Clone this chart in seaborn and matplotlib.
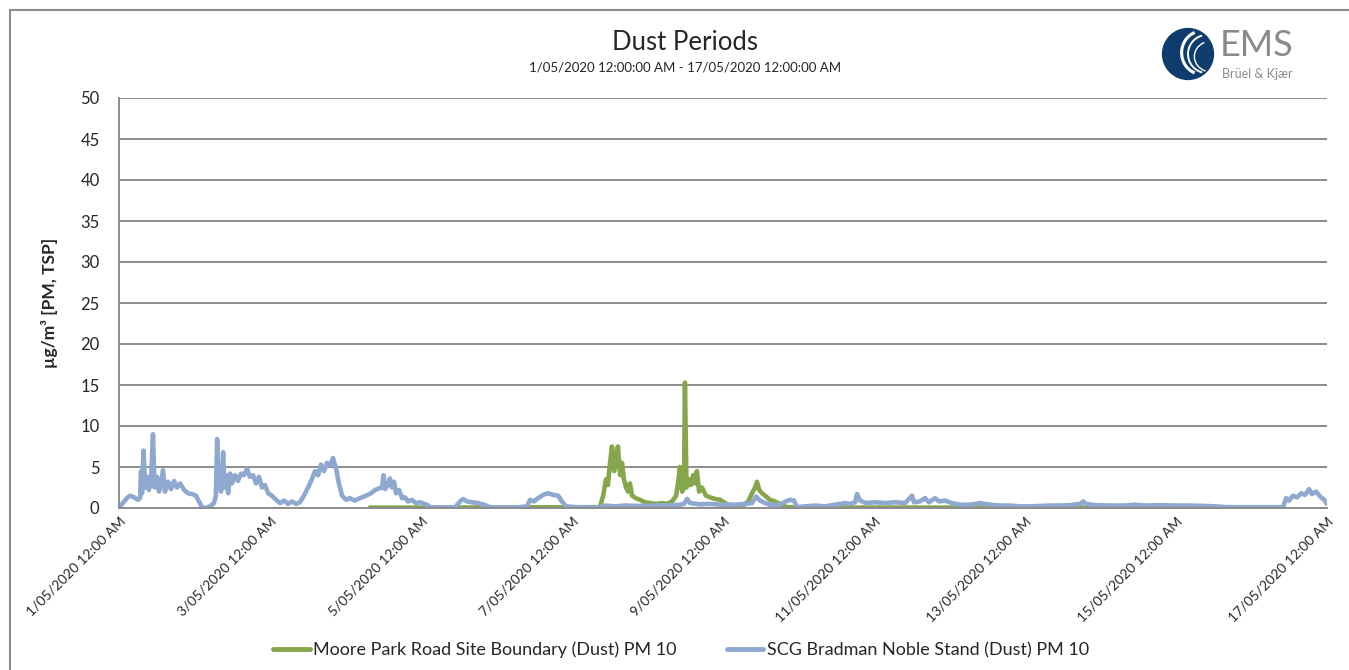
import pandas as pd
import matplotlib
matplotlib.use("Agg")
import matplotlib.pyplot as plt
import matplotlib.patches as mpatches
import seaborn as sns
from datetime import datetime, timedelta

# hours after 1/05/2020 12:00 AM, values in ug/m3
SCG_HOURS = [0, 1.0, 2.5, 3.5, 4.8, 6.0, 6.7, 7.0, 7.3, 7.8, 8.3, 8.9, 9.5, 10.2, 10.8, 11.3,
             12.1, 12.7, 13.4, 14.0, 14.6, 15.6, 16.5, 17.5, 18.4, 19.4, 20.7, 21.9, 23.2,
             24.5, 25.4, 26.4, 27.7, 28.9, 30.2, 30.8, 31.2, 31.6, 32.1, 32.4, 33.1, 33.5,
             34.0, 34.7, 35.3, 35.9, 36.9, 37.8, 38.8, 39.7, 40.7, 41.6, 42.6, 43.6, 44.5,
             45.5, 46.4, 47.4, 48.6, 49.9, 51.2, 52.5, 53.7, 55.0, 56.3, 57.5, 58.8, 60.1,
             61.4, 62.3, 63.3, 64.2, 65.2, 66.1, 67.1, 68.0, 69.0, 69.9, 70.9, 72.2, 73.4,
             75.0, 76.6, 78.5, 80.1, 81.4, 82.7, 83.6, 84.1, 84.6, 85.5, 86.1, 86.8, 87.4,
             88.1, 89.0, 90.0, 90.9, 91.9, 93.1, 94.4, 95.7, 97.0, 97.9, 98.9, 102.0, 106.8,
             108.4, 109.4, 110.6, 112.2, 114.1, 116.0, 117.9, 121.1, 124.3, 127.5, 129.7,
             130.7, 131.9, 133.2, 134.8, 136.4, 138.0, 139.6, 140.8, 142.1, 145.0, 149.7,
             152.8, 154.5, 157.7, 160.8, 165.6, 170.4, 175.2, 178.3, 179.6, 180.6, 181.5,
             184.7, 187.9, 191.1, 195.8, 199.0, 201.2, 202.5, 203.8, 205.4, 206.9, 210.1,
             212.0, 213.3, 214.6, 215.5, 218.1, 221.3, 224.4, 227.6, 230.8, 232.4, 234.0,
             234.6, 235.6, 237.5, 240.3, 243.5, 246.7, 249.9, 252.1, 252.7, 254.6, 256.2,
             257.5, 259.4, 260.7, 262.6, 264.8, 267.3, 270.5, 273.7, 276.9, 280.1, 283.2,
             286.4, 289.6, 292.8, 296.0, 299.1, 302.3, 305.5, 306.5, 307.4, 310.3, 315.0,
             319.8, 323.0, 326.2, 330.9, 335.7, 340.5, 345.2, 348.4, 352.2, 359.5, 365.9,
             370.0, 371.0, 371.9, 373.2, 374.5, 375.8, 377.0, 378.3, 379.2, 380.5, 381.8,
             383.1, 384.0]
SCG_VALUES = [0.0, 0.5, 1.2, 1.5, 1.3, 1.0, 1.2, 4.5, 1.8, 7.0, 2.5, 3.8, 2.2, 3.5, 9.0, 2.5,
              3.8, 2.0, 3.0, 4.6, 2.0, 3.2, 2.3, 3.3, 2.5, 3.0, 2.2, 1.8, 1.7,
              1.5, 0.8, 0.1, 0.0, 0.2, 0.6, 1.5, 8.4, 2.5, 5.0, 2.0, 6.8, 2.5,
              4.0, 1.8, 4.2, 3.0, 4.0, 3.3, 4.2, 4.0, 4.8, 3.8, 4.0, 3.0, 3.8,
              2.5, 2.8, 1.8, 1.5, 1.0, 0.6, 0.9, 0.5, 0.8, 0.5, 0.7, 1.5, 2.5,
              3.6, 4.5, 4.0, 5.3, 4.5, 5.5, 5.2, 6.1, 4.8, 3.0, 1.5, 1.0, 1.2,
              0.9, 1.2, 1.5, 1.8, 2.2, 2.4, 2.5, 4.0, 2.3, 2.8, 3.6, 2.5, 3.2,
              1.8, 2.2, 1.2, 1.3, 0.8, 1.0, 0.6, 0.7, 0.5, 0.4, 0.1, 0.05, 0.05,
              0.8, 1.1, 0.8, 0.7, 0.6, 0.4, 0.1, 0.05, 0.05, 0.1, 0.2,
              1.0, 0.8, 1.2, 1.6, 1.8, 1.6, 1.5, 0.8, 0.2, 0.1, 0.05,
              0.1, 0.3, 0.2, 0.3, 0.25, 0.3, 0.35, 0.4, 0.5, 1.1, 0.6,
              0.45, 0.5, 0.4, 0.4, 0.5, 0.6, 1.4, 0.9, 0.6, 0.4, 0.4,
              0.8, 1.0, 0.9, 0.1, 0.2, 0.3, 0.2, 0.4, 0.6, 0.5, 0.7,
              1.7, 0.9, 0.6, 0.7, 0.6, 0.7, 0.6, 1.5, 0.7, 0.8, 1.2,
              0.7, 1.2, 0.8, 0.9, 0.6, 0.4, 0.4, 0.6, 0.4, 0.3, 0.3,
              0.2, 0.2, 0.25, 0.3, 0.3, 0.35, 0.5, 0.8, 0.5, 0.35, 0.3,
              0.3, 0.4, 0.3, 0.35, 0.3, 0.3, 0.25, 0.2, 0.1, 0.1, 0.1,
              0.1, 1.2, 0.9, 1.5, 1.3, 1.8, 1.6, 2.3, 1.7, 2.0, 1.4,
              1.0, 0.5]

MOORE_HOURS = [79.8, 98.9, 152.9, 153.9, 154.8, 155.4, 156.1, 156.7, 157.4, 158.0, 158.6,
               159.3, 159.9, 160.5, 161.2, 161.8, 162.4, 163.1, 164.3, 165.6, 167.2, 168.8,
               170.7, 172.6, 174.2, 175.8, 177.1, 177.7, 178.3, 179.0, 179.6, 179.9, 180.4,
               181.2, 181.8, 182.5, 183.1, 183.7, 184.4, 185.3, 186.6, 187.9, 189.5, 191.1,
               192.3, 193.6, 195.8, 198.4, 200.0, 201.2, 202.2, 202.8, 203.5, 204.4, 205.7,
               206.9, 208.5, 210.1, 212.3, 216.5, 353.2]
MOORE_VALUES = [0.05, 0.05, 0.1, 1.5, 3.5, 2.8, 5.5, 7.5, 4.5, 6.5, 7.5,
                4.0, 5.5, 3.5, 2.5, 2.0, 3.0, 1.5, 1.2, 1.0, 0.7, 0.6,
                0.5, 0.6, 0.5, 0.8, 1.5, 3.0, 5.0, 2.0, 2.5, 15.3, 2.5,
                3.5, 2.8, 4.0, 3.0, 4.5, 2.0, 2.5, 1.5, 1.3, 1.1, 1.0,
                0.7, 0.4, 0.3, 0.3, 0.8, 1.8, 2.5, 3.2, 2.2, 1.8, 1.4,
                1.0, 0.8, 0.5, 0.1, 0.05, 0.05]

SERIES = ["Moore Park Road Site Boundary (Dust) PM 10", "SCG Bradman Noble Stand (Dust) PM 10"]
COLORS = ["#86A64B", "#8EA8D0"]
START = datetime(2020, 5, 1)

df = pd.concat([
    pd.DataFrame({"hours": MOORE_HOURS, "value": MOORE_VALUES, "site": SERIES[0]}),
    pd.DataFrame({"hours": SCG_HOURS, "value": SCG_VALUES, "site": SERIES[1]}),
])

sns.set_theme(style="white")
plt.rcParams["font.family"] = ["Lato", "DejaVu Sans"]

fig = plt.figure(figsize=(13.49, 6.70), dpi=100)
ax = fig.add_axes([119 / 1349, 1 - 508 / 670, 1208 / 1349, 410 / 670])

sns.lineplot(data=df, x="hours", y="value", hue="site", hue_order=SERIES,
             palette=COLORS, estimator=None, linewidth=3.3, legend=False, ax=ax)

ax.set_xlim(0, 384)
ax.set_ylim(0, 50)
ax.set_yticks(range(0, 51, 5))
ticks = list(range(0, 385, 48))
ax.set_xticks(ticks)
labels = []
for h in ticks:
    d = START + timedelta(hours=h)
    labels.append(f"{d.day}/{d:%m/%Y} {d:%I:%M %p}")
ax.set_xticklabels(labels, rotation=45, ha="right", rotation_mode="anchor", fontsize=10)
ax.tick_params(axis="y", labelsize=12, length=0, pad=14)
ax.tick_params(axis="x", direction="in", length=4, color="#888888", pad=5)
ax.grid(axis="y", color="#8c8c8c", linewidth=1.4)
ax.set_axisbelow(True)
for s in ["top", "right"]:
    ax.spines[s].set_visible(False)
for s in ["left", "bottom"]:
    ax.spines[s].set_color("#8c8c8c")
    ax.spines[s].set_linewidth(1.4)
ax.set_xlabel("")
ax.set_ylabel("µg/m³ [PM, TSP]", fontsize=12.5, fontweight="bold", labelpad=16)

fig.text(0.508, 0.937, "Dust Periods", ha="center", va="center", fontsize=18.5)
fig.text(0.508, 0.899, "1/05/2020 12:00:00 AM - 17/05/2020 12:00:00 AM",
         ha="center", va="center", fontsize=9.5)

handles = [plt.Line2D([], [], color=c, linewidth=3.5) for c in COLORS]
fig.legend(handles, SERIES, loc="center", bbox_to_anchor=(0.505, 0.03), ncol=2,
           frameon=False, fontsize=13, handlelength=2.0, handletextpad=0.2,
           columnspacing=2.8)

# frame round the chart
fig.patches.append(mpatches.Rectangle((10 / 1349, -0.1), 1.2, 1.1 - 10 / 670,
                                      transform=fig.transFigure, fill=False,
                                      edgecolor="#8c8c8c", linewidth=1.5))

# logo
lax = fig.add_axes([1160 / 1349, 1 - 82 / 670, 56 / 1349, 56 / 670])
lax.set_xlim(-1.1, 1.1)
lax.set_ylim(-1.1, 1.1)
lax.set_aspect("equal")
lax.axis("off")
lax.add_patch(mpatches.Circle((0, 0), 1.0, color="#0E3D6D"))
lax.add_patch(mpatches.Arc((0.55, 0.05), 1.6, 1.7, theta1=110, theta2=250, color="white", linewidth=2.2))
lax.add_patch(mpatches.Arc((0.75, 0.0), 1.5, 1.5, theta1=105, theta2=255, color="white", linewidth=1.4))
lax.add_patch(mpatches.Arc((0.9, -0.1), 1.3, 1.2, theta1=115, theta2=250, color="white", linewidth=1.0))
fig.text(1220 / 1349, 1 - 46 / 670, "EMS", ha="left", va="center", fontsize=26, color="#8a8a8a")
fig.text(1222 / 1349, 1 - 74 / 670, "Brüel & Kjær", ha="left", va="center", fontsize=9, color="#8a8a8a")

fig.savefig("out.png", dpi=100)
